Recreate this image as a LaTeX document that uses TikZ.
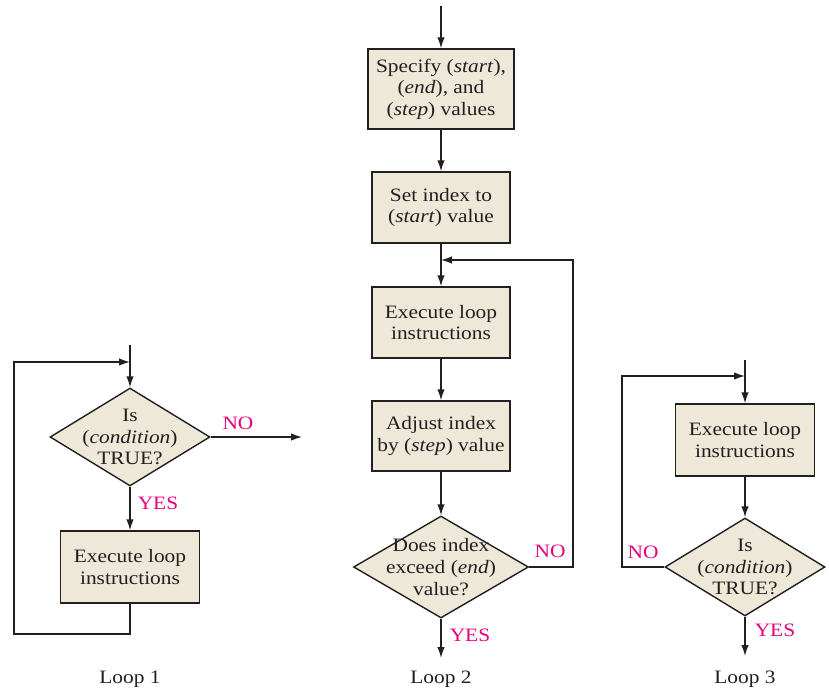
\documentclass[tikz,border=0pt]{standalone}
\usepackage{fontspec}
\setmainfont[FakeStretch=1.13]{Liberation Serif}
\usetikzlibrary{shapes.geometric,arrows.meta}
\definecolor{boxfill}{RGB}{237,232,216}
\definecolor{lblmag}{RGB}{230,0,126}
\definecolor{ink}{RGB}{35,31,32}
\begin{document}
\begin{tikzpicture}[x=1bp,y=-1bp,
  font=\fontsize{19}{21.7}\selectfont,
  procbox/.style={draw=ink, fill=boxfill, line width=1.4bp, inner sep=0pt, align=center, text=ink},
  decbox/.style={diamond, draw=ink, fill=boxfill, line width=1.4bp, inner sep=0pt},
  dtext/.style={align=center, inner sep=0pt, text=ink},
  conn/.style={draw=ink, line width=1.4bp, -{Latex[length=11bp,width=7.5bp]}},
  lbl/.style={text=lblmag, inner sep=0pt},
  looptitle/.style={text=ink, inner sep=0pt}]
\useasboundingbox (0,0) rectangle (829,691);

% ---------- Loop 1 ----------
\coordinate (l1in) at (130,345);
\node[decbox, minimum width=160bp, minimum height=98bp] (d1) at (130,437) {};
\node[dtext] (d1t) at (d1) {Is\\(\textit{condition})\\TRUE?};
\node[procbox, minimum width=139bp, minimum height=72bp] (b1) at (130,567) {Execute loop\\instructions};
\coordinate (l1no) at (302,437);
\coordinate (l1c) at (14,634);
\coordinate (l1j) at (130,362);
\draw[conn] (l1in) -- (d1.north);
\draw[conn] (d1.east) -- (l1no);
\draw[conn] (d1.south) -- (b1.north);
\draw[conn] (b1.south) |- (l1c) |- (l1j);
\node[lbl] (l1nol) at (238,423) {NO};
\node[lbl] (l1yes) at (158,503) {YES};
\node[looptitle] (cap1) at (130,679) {Loop 1};

% ---------- Loop 2 ----------
\coordinate (l2in) at (441,6);
\node[procbox, minimum width=146bp, minimum height=80bp] (s1) at (441,89) {Specify (\textit{start}),\\(\textit{end}), and\\(\textit{step}) values};
\node[procbox, minimum width=138bp, minimum height=71bp] (s2) at (441,207.5) {Set index to\\(\textit{start}) value};
\node[procbox, minimum width=138bp, minimum height=71bp] (s3) at (441,322.5) {Execute loop\\instructions};
\node[procbox, minimum width=138bp, minimum height=70bp] (s4) at (441,436) {Adjust index\\by (\textit{step}) value};
\node[decbox, minimum width=175bp, minimum height=102bp] (d2) at (441,567) {};
\node[dtext] (d2t) at (d2) {Does index\\exceed (\textit{end})\\value?};
\coordinate (l2c) at (573,567);
\coordinate (l2j) at (441,260);
\coordinate (l2out) at (441,658);
\draw[conn] (l2in) -- (s1.north);
\draw[conn] (s1.south) -- (s2.north);
\draw[conn] (s2.south) -- (s3.north);
\draw[conn] (s3.south) -- (s4.north);
\draw[conn] (s4.south) -- (d2.north);
\draw[conn] (d2.east) -- (l2c) |- (l2j);
\draw[conn] (d2.south) -- (l2out);
\node[lbl] (l2nol) at (550,551) {NO};
\node[lbl] (l2yes) at (470,635) {YES};
\node[looptitle] (cap2) at (441,679) {Loop 2};

% ---------- Loop 3 ----------
\coordinate (l3in) at (745,360);
\node[procbox, minimum width=139bp, minimum height=72bp] (b3) at (745,440) {Execute loop\\instructions};
\node[decbox, minimum width=160bp, minimum height=98bp] (d3) at (745,567) {};
\node[dtext] (d3t) at (d3) {Is\\(\textit{condition})\\TRUE?};
\coordinate (l3c) at (622,567);
\coordinate (l3j) at (745,376);
\coordinate (l3out) at (745,656);
\draw[conn] (l3in) -- (b3.north);
\draw[conn] (b3.south) -- (d3.north);
\draw[conn] (d3.west) -- (l3c) |- (l3j);
\draw[conn] (d3.south) -- (l3out);
\node[lbl] (l3nol) at (643,552) {NO};
\node[lbl] (l3yes) at (775,630) {YES};
\node[looptitle] (cap3) at (745,679) {Loop 3};
\end{tikzpicture}
\end{document}
